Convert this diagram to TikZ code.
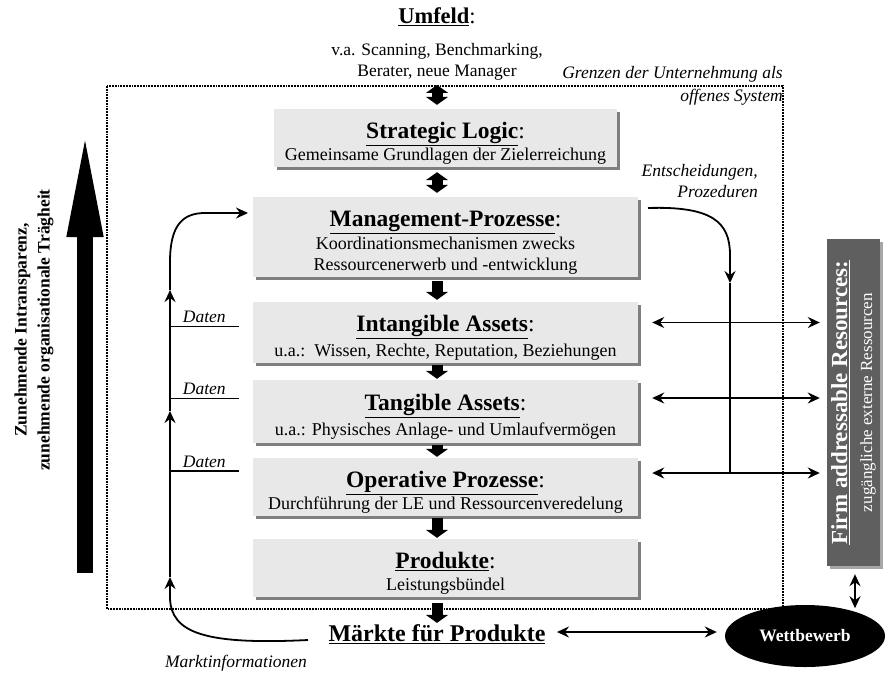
\documentclass[tikz,border=0pt]{standalone}
\usepackage{fontspec}
\setmainfont{Liberation Serif}
\usetikzlibrary{arrows.meta,shadows,calc,shapes.geometric}

\definecolor{boxgray}{HTML}{E8E8E8}
\definecolor{shadegray}{HTML}{7F7F7F}
\definecolor{firmgray}{HTML}{5F5F5F}
\definecolor{firmshade}{HTML}{A6A6A6}

\newcommand{\boxhead}[1]{\rule{0pt}{27pt}{\bfseries\fontsize{23.5}{25}\selectfont\underline{#1}}{\fontsize{23.5}{25}\selectfont:}}

\tikzset{
  box/.style={fill=boxgray, minimum width=385pt, inner sep=0pt, align=center,
    font=\fontsize{18}{21.5}\selectfont,
    drop shadow={shadow xshift=3pt, shadow yshift=-3pt, fill=shadegray, opacity=1}},
  blockarrow/.style={line width=11pt, -{Triangle[width=22pt,length=8pt]}},
  blockdouble/.style={line width=11pt, {Triangle[width=22pt,length=8pt]}-{Triangle[width=22pt,length=8pt]}},
  thinarrow/.style={line width=1.8pt, -{Stealth[length=12pt,width=11pt,inset=4pt]}},
  thindouble/.style={line width=1.8pt, {Stealth[length=12pt,width=11pt,inset=4pt]}-{Stealth[length=12pt,width=11pt,inset=4pt]}},
  remark/.style={font=\itshape\fontsize{17.5}{21}\selectfont, inner sep=0pt},
  boundary/.style={densely dotted, line width=1.8pt}
}

\begin{document}
\begin{tikzpicture}[x=1pt, y=-1pt]
    \useasboundingbox (0,0) rectangle (885,678);

    % environment on top
    \node[font=\fontsize{22.5}{25}\selectfont] (umfeld) at (437,17) {\textbf{\underline{Umfeld}}:};
    \node[align=center, font=\fontsize{17.5}{21}\selectfont] (umfeldtxt) at (437,62) {v.a. Scanning, Benchmarking,\\ Berater, neue Manager};
    \node[remark, anchor=east] (grenzen) at (783,74) {Grenzen der Unternehmung als};
    \node[remark, anchor=east] (offen) at (783,97) {offenes System};

    % boundary of the firm
    \draw[boundary] (107,86) rectangle (783,609);

    % main column
    \node[box, minimum width=343pt, minimum height=58pt] (strat) at (445.5,138)
        {\boxhead{Strategic Logic}\\[1pt] Gemeinsame Grundlagen der Zielerreichung};
    \node[box, minimum height=80pt] (mgmt) at (445.5,237)
        {\boxhead{Management-Prozesse}\\[1pt] Koordinationsmechanismen zwecks\\ Ressourcenerwerb und -entwicklung};
    \node[box, minimum height=61pt] (intang) at (445.5,332.5)
        {\boxhead{Intangible Assets}\\[3pt] u.a.:\ \ Wissen, Rechte, Reputation, Beziehungen};
    \node[box, minimum height=63pt] (tang) at (445.5,411.5)
        {\boxhead{Tangible Assets}\\[3pt] u.a.: Physisches Anlage- und Umlaufvermögen};
    \node[box, minimum height=58pt] (oper) at (445.5,487)
        {\boxhead{Operative Prozesse}\\[1pt] Durchführung der LE und Ressourcenveredelung};
    \node[box, minimum height=58pt] (prod) at (445.5,568)
        {\boxhead{Produkte}\\[1pt] Leistungsbündel};

    \draw[blockdouble] ($(umfeldtxt.south -| 437,0)+(0,1)$) -- ($(strat.north -| 437,0)+(0,-4)$);
    \draw[blockdouble] ($(strat.south -| 437,0)+(0,5)$) -- ($(mgmt.north -| 437,0)+(0,-4)$);
    \draw[blockarrow] ($(mgmt.south -| 437,0)+(0,4)$) -- ($(intang.north -| 437,0)+(0,-2)$);
    \draw[blockarrow] ($(intang.south -| 437,0)+(0,2)$) -- ($(tang.north -| 437,0)+(0,-1)$);
    \draw[blockarrow] ($(tang.south -| 437,0)+(0,2)$) -- ($(oper.north -| 437,0)+(0,-1)$);
    \draw[blockarrow] ($(oper.south -| 437,0)+(0,2)$) -- ($(prod.north -| 437,0)+(0,-1)$);

    % markets and competition
    \node[font=\bfseries\fontsize{24}{26}\selectfont] (markt) at (437,634) {\underline{Märkte für Produkte}};
    \node[ellipse, fill=black, minimum width=160pt, minimum height=62pt, inner sep=0pt,
        text=white, font=\bfseries\fontsize{17.5}{20}\selectfont] (wett) at (805,636) {Wettbewerb};
    \node[remark] (mktinfo) at (236,663) {Marktinformationen};
    \draw[blockarrow] ($(prod.south -| 437,0)+(0,6)$) -- ($(markt.north -| 437,0)+(0,2)$);
    \draw[thindouble] ($(markt.east)+(8,-2)$) -- ($(markt.east -| wett.west)+(-8,-2)$);

    % external resources
    \node[fill=firmgray, minimum width=53pt, minimum height=327pt, inner sep=0pt,
        drop shadow={shadow xshift=3pt, shadow yshift=-3pt, fill=firmshade, opacity=1}] (firm) at (853.5,402.5) {};
    \node[rotate=90, align=center, text=white, font=\fontsize{17}{25}\selectfont] (firmtxt) at (firm.center)
        {{\bfseries\fontsize{23}{25}\selectfont\underline{Firm addressable Resources:}}\\ zugängliche externe Ressourcen};
    \draw[thindouble] ($(firm.south)+(1.5,8)$) -- ($(firm.south)+(1.5,42)$);

    \foreach \b/\d in {intang/10, tang/13.5, oper/14} {
        \draw[thindouble] ($(\b.east)+(14,-\d)$) -- ($(\b.east -| firm.west)+(-7,-\d)$);
    }

    % decisions and procedures
    \node[remark, align=right, anchor=east] (entsch) at (758,181) {Entscheidungen,\\ Prozeduren};
    \coordinate (decstart) at (648,208);
    \coordinate (dectip) at (730,283);
    \coordinate (decend) at (730,473);
    \draw[thinarrow] (decstart) .. controls (712,206) and (730,222) .. (730,255) -- (dectip);
    \draw[line width=1.8pt] (dectip) -- (decend);

    % feedback of data
    \coordinate (mktend) at (308,640);
    \coordinate (fb1) at (170,577);
    \coordinate (fb2) at (170,411);
    \coordinate (fb3) at (170,290);
    \coordinate (fbtip) at (248,213);
    \draw[thinarrow] (mktend) .. controls (205,645) and (171,633) .. (170,598) -- (fb1);
    \draw[thinarrow] (fb1) -- (fb2);
    \draw[thinarrow] (fb2) -- (fb3);
    \draw[thinarrow] (fb3) -- (170,262) .. controls (170,226) and (182,213) .. (205,213) -- (fbtip);

    \foreach \b/\d in {intang/6, tang/13, oper/16} {
        \draw[line width=1.3pt] ($(\b.west)+(-83,-\d)$) -- ($(\b.west)+(-14,-\d)$)
            node[remark, midway, above=3pt] {Daten};
    }

    % trend arrow on the left
    \coordinate (trendlow) at (85,573);
    \coordinate (trendhigh) at (85,127);
    \draw[line width=16pt, -{Triangle[width=32pt,length=110pt]}] (trendlow) -- (trendhigh);
    \node[rotate=90, align=center, font=\bfseries\fontsize{17.5}{23}\selectfont] (trend) at (34,330)
        {Zunehmende Intransparenz,\\ zunehmende organisationale Trägheit};
\end{tikzpicture}
\end{document}
